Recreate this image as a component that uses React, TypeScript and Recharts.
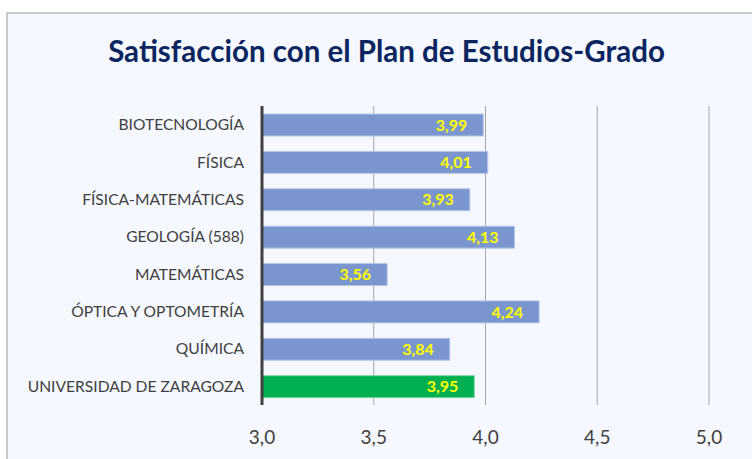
import React from 'react';
import { BarChart, Bar, XAxis, YAxis, CartesianGrid, LabelList, Cell } from 'recharts';

const categories = [
  'BIOTECNOLOGÍA',
  'FÍSICA',
  'FÍSICA-MATEMÁTICAS',
  'GEOLOGÍA (588)',
  'MATEMÁTICAS',
  'ÓPTICA Y OPTOMETRÍA',
  'QUÍMICA',
  'UNIVERSIDAD DE ZARAGOZA',
];
const values = [3.99, 4.01, 3.93, 4.13, 3.56, 4.24, 3.84, 3.95];
const xTicks = [3.0, 3.5, 4.0, 4.5, 5.0];
const title = 'Satisfacción con el Plan de Estudios-Grado';

const data = categories.map((name, i) => ({ name, value: values[i] }));

const FONT = 'Lato, "Noto Sans", sans-serif';

export default function App() {
  return (
    <div style={{ position: 'absolute', left: 0, top: 0, width: 752, height: 459, background: '#ffffff', overflow: 'hidden' }}>
      <div
        style={{
          position: 'absolute',
          left: 6,
          top: 12,
          width: 800,
          height: 500,
          background: '#F5F8FF',
          border: '2px solid #C8C8C8',
          boxSizing: 'border-box',
        }}
      />
      <div
        style={{
          position: 'absolute',
          left: 0,
          top: 32,
          width: 773,
          textAlign: 'center',
          fontFamily: FONT,
          fontWeight: 700,
          fontSize: 29.5,
          color: '#0B2560',
          lineHeight: '38px',
        }}
      >
        {title}
      </div>
      <div style={{ position: 'absolute', left: 0, top: 0 }}>
        <BarChart
          width={752}
          height={459}
          data={data}
          layout="vertical"
          margin={{ top: 106, right: 43, bottom: 0, left: 0 }}
          barSize={22}
        >
          <CartesianGrid horizontal={false} vertical={true} stroke="#A6A6A6" strokeWidth={1} />
          <XAxis
            type="number"
            domain={[3, 5]}
            ticks={xTicks}
            allowDataOverflow
            axisLine={false}
            tickLine={false}
            height={54}
            tickMargin={20}
            tick={{ fill: '#404040', fontSize: 19, fontFamily: FONT }}
            tickFormatter={(v: number) => v.toFixed(1).replace('.', ',')}
          />
          <YAxis
            type="category"
            dataKey="name"
            width={262}
            axisLine={{ stroke: '#404040', strokeWidth: 3 }}
            tickLine={false}
            tickSize={0}
            tickMargin={18}
            tick={{ fill: '#404040', fontSize: 15.6, fontFamily: FONT }}
          />
          <Bar dataKey="value" isAnimationActive={false} strokeWidth={1}>
            {data.map((d, i) => (
              <Cell
                key={d.name}
                fill={i === data.length - 1 ? '#00B050' : '#7B96CF'}
                stroke={i === data.length - 1 ? '#7FD6A0' : '#B8C8E8'}
              />
            ))}
            <LabelList
              dataKey="value"
              position="insideRight"
              offset={16}
              fill="#FFFF00"
              style={{ fontFamily: FONT, fontSize: 16, fontWeight: 700 }}
              formatter={(v: number) => v.toFixed(2).replace('.', ',')}
            />
          </Bar>
        </BarChart>
      </div>
    </div>
  );
}
